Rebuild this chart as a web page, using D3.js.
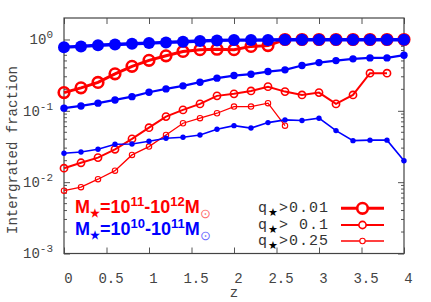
<!DOCTYPE html>
<html>
<head>
<meta charset="utf-8">
<script src="https://cdn.jsdelivr.net/npm/d3@7"></script>
<style>
  body { margin: 0; background: white; }
  text { font-family: "Liberation Mono", "DejaVu Sans Mono", monospace; }
</style>
</head>
<body>
<div id="chart"></div>
<script>
// redshift grid
var zVals = [0, 0.2, 0.4, 0.6, 0.8, 1.0, 1.2, 1.4, 1.6, 1.8, 2.0, 2.2, 2.4, 2.6, 2.8, 3.0, 3.2, 3.4, 3.6, 3.8, 4.0];

// M* = 1e11-1e12 (red)
var redQ001 = [0.18, 0.21, 0.25, 0.33, 0.42, 0.51, 0.59, 0.68, 0.72, 0.73, 0.72, 0.80, 0.82, 1.0, 1.0, 1.0, 1.0, 1.0, 1.0, 1.0, 1.0];
var redQ01 = [0.0157, 0.0187, 0.0221, 0.0289, 0.0404, 0.058, 0.083, 0.103, 0.125, 0.162, 0.173, 0.19, 0.218, 0.186, 0.167, 0.18, 0.125, 0.167, 0.337, 0.337];
var redQ025 = [0.0076, 0.0085, 0.011, 0.0145, 0.0241, 0.0315, 0.0459, 0.067, 0.0788, 0.0925, 0.1145, 0.1145, 0.128, 0.062];

// M* = 1e10-1e11 (blue)
var blueQ001 = [0.78, 0.80, 0.83, 0.85, 0.87, 0.89, 0.91, 0.93, 0.95, 0.97, 0.98, 0.98, 0.985, 0.99, 0.99, 0.99, 0.99, 0.99, 0.99, 0.99, 0.99];
var blueQ01 = [0.109, 0.117, 0.128, 0.142, 0.158, 0.182, 0.203, 0.224, 0.252, 0.287, 0.312, 0.326, 0.355, 0.375, 0.431, 0.474, 0.506, 0.535, 0.552, 0.552, 0.602];
var blueQ025 = [0.0254, 0.0265, 0.0289, 0.034, 0.0343, 0.0375, 0.0413, 0.0426, 0.0459, 0.0552, 0.062, 0.0573, 0.0684, 0.0746, 0.073, 0.0788, 0.0528, 0.0382, 0.0388, 0.0388, 0.02];

var xTicks = [0, 0.5, 1, 1.5, 2, 2.5, 3, 3.5, 4];
var yTicks = [1e-3, 1e-2, 1e-1, 1];
var legendLabels = [">0.01", "> 0.1", ">0.25"];

// plot box (gnuplot style border)
var pLeft = 64, pRight = 404, pTop = 18, pBottom = 253.5;

var svg = d3
  .select("#chart")
  .append("svg")
  .attr("width", 431)
  .attr("height", 302);

var x = d3.scaleLinear().domain([0, 4]).range([pLeft, pRight]);
var y = d3.scaleLog().domain([1e-3, 2]).range([pBottom, pTop]);

//Minor log ticks (left + right)
var minors = [];
for (var d = -3; d < 1; d++) {
  for (var m = 2; m < 10; m++) {
    var v = m * Math.pow(10, d);
    if (v < 2) minors.push(v);
  }
}
svg
  .selectAll(".minorL")
  .data(minors)
  .enter()
  .append("line")
  .attr("x1", pLeft)
  .attr("x2", pLeft + 3)
  .attr("y1", (d) => y(d))
  .attr("y2", (d) => y(d))
  .attr("stroke", "#555");
svg
  .selectAll(".minorR")
  .data(minors)
  .enter()
  .append("line")
  .attr("x1", pRight)
  .attr("x2", pRight - 3)
  .attr("y1", (d) => y(d))
  .attr("y2", (d) => y(d))
  .attr("stroke", "#555");

//Axes, ticks pointing inward
var gx = svg
  .append("g")
  .attr("transform", "translate(0," + pBottom + ")")
  .call(d3.axisBottom(x).tickValues(xTicks).tickSizeInner(-6).tickSizeOuter(0).tickPadding(20).tickFormat((d) => d));
gx.selectAll("text").attr("dx", 4);

svg
  .append("g")
  .attr("transform", "translate(0," + pTop + ")")
  .call(d3.axisTop(x).tickValues(xTicks).tickSizeInner(-6).tickSizeOuter(0).tickFormat(""));

var gy = svg
  .append("g")
  .attr("transform", "translate(" + pLeft + ",0)")
  .call(d3.axisLeft(y).tickValues(yTicks).tickSizeInner(-6).tickSizeOuter(0).tickPadding(11).tickFormat(""));

svg
  .append("g")
  .attr("transform", "translate(" + pRight + ",0)")
  .call(d3.axisRight(y).tickValues(yTicks).tickSizeInner(-6).tickSizeOuter(0).tickFormat(""));

svg.selectAll(".domain").remove();
svg.selectAll(".tick line").attr("stroke", "#555");
svg.selectAll(".tick text").attr("fill", "#444").style("font-size", "14px").style("font-family", "Liberation Mono, monospace");

//y tick labels 10^n
gy.selectAll(".tick text").each(function (d) {
  var t = d3.select(this);
  t.text(null).attr("dy", "0.32em");
  t.append("tspan").text("10");
  t.append("tspan").attr("dy", "-6").style("font-size", "11px").text(Math.round(Math.log10(d)));
});

//Border
svg
  .append("rect")
  .attr("x", pLeft)
  .attr("y", pTop)
  .attr("width", pRight - pLeft)
  .attr("height", pBottom - pTop)
  .attr("fill", "none")
  .attr("stroke", "#444")
  .attr("stroke-width", 1.2);

//Axis titles
svg
  .append("text")
  .attr("transform", "translate(17,150) rotate(-90)")
  .attr("text-anchor", "middle")
  .attr("fill", "#444")
  .style("font-size", "14px")
  .text("Intergrated fraction");

svg
  .append("text")
  .attr("x", 234)
  .attr("y", 297)
  .attr("text-anchor", "middle")
  .attr("fill", "#444")
  .style("font-size", "14px")
  .text("z");

//Series
var line = d3
  .line()
  .x((d, i) => x(zVals[i]))
  .y((d) => y(d));

function drawOpen(data, lw, r, sw) {
  svg.append("path").datum(data).attr("d", line).attr("fill", "none").attr("stroke", "red").attr("stroke-width", lw);
  svg
    .append("g")
    .selectAll("circle")
    .data(data)
    .enter()
    .append("circle")
    .attr("cx", (d, i) => x(zVals[i]))
    .attr("cy", (d) => y(d))
    .attr("r", r)
    .attr("fill", "none")
    .attr("stroke", "red")
    .attr("stroke-width", sw);
}

function drawFilled(data, lw, r) {
  svg.append("path").datum(data).attr("d", line).attr("fill", "none").attr("stroke", "blue").attr("stroke-width", lw);
  svg
    .append("g")
    .selectAll("circle")
    .data(data)
    .enter()
    .append("circle")
    .attr("cx", (d, i) => x(zVals[i]))
    .attr("cy", (d) => y(d))
    .attr("r", r)
    .attr("fill", "blue");
}

drawOpen(redQ001, 3, 5.3, 2.6);
drawOpen(redQ01, 2, 3.6, 1.6);
drawOpen(redQ025, 1.3, 2.7, 1.1);

drawFilled(blueQ001, 3.4, 6);
drawFilled(blueQ01, 2.2, 3.7);
drawFilled(blueQ025, 1.6, 2.7);

//Mass labels
function massLabel(yy, col, a, b) {
  var t = svg
    .append("text")
    .attr("x", 75)
    .attr("y", yy)
    .attr("fill", col)
    .style("font-family", "Liberation Sans, Arial, sans-serif")
    .style("font-weight", "bold")
    .style("font-size", "18px");
  t.append("tspan").text("M");
  t.append("tspan").attr("dy", 4).style("font-size", "11px").text("\u2605");
  t.append("tspan").attr("dy", -4).text("=10");
  t.append("tspan").attr("dy", -7).style("font-size", "13px").text(a);
  t.append("tspan").attr("dy", 7).text("-10");
  t.append("tspan").attr("dy", -7).style("font-size", "13px").text(b);
  t.append("tspan").attr("dy", 7).text("M");
  t.append("tspan").attr("dy", 5).style("font-size", "13px").style("font-weight", "normal").attr("opacity", 0.6).text("\u2299");
}
massLabel(212.7, "red", "11", "12");
massLabel(235, "blue", "10", "11");

//Legend
var legY = [208.3, 225, 241];
var legR = [5.3, 3.6, 2.7];
var legSW = [2.6, 1.6, 1.1];
var legLW = [3, 2, 1.3];
legendLabels.forEach(function (lab, i) {
  var t = svg
    .append("text")
    .attr("x", 329)
    .attr("y", legY[i] + 4)
    .attr("text-anchor", "end")
    .attr("fill", "#333")
    .style("font-size", "15px")
    .style("letter-spacing", "1px");
  t.append("tspan").text("q");
  t.append("tspan").attr("dy", 4).style("font-size", "11px").style("font-family", "DejaVu Sans").attr("fill", "#000").text("\u2605");
  t.append("tspan").attr("dy", -4).text(lab);

  svg
    .append("line")
    .attr("x1", 341)
    .attr("x2", 384)
    .attr("y1", legY[i])
    .attr("y2", legY[i])
    .attr("stroke", "red")
    .attr("stroke-width", legLW[i]);
  svg
    .append("circle")
    .attr("cx", 362.5)
    .attr("cy", legY[i])
    .attr("r", legR[i])
    .attr("fill", "white")
    .attr("stroke", "red")
    .attr("stroke-width", legSW[i]);
});
</script>
</body>
</html>
